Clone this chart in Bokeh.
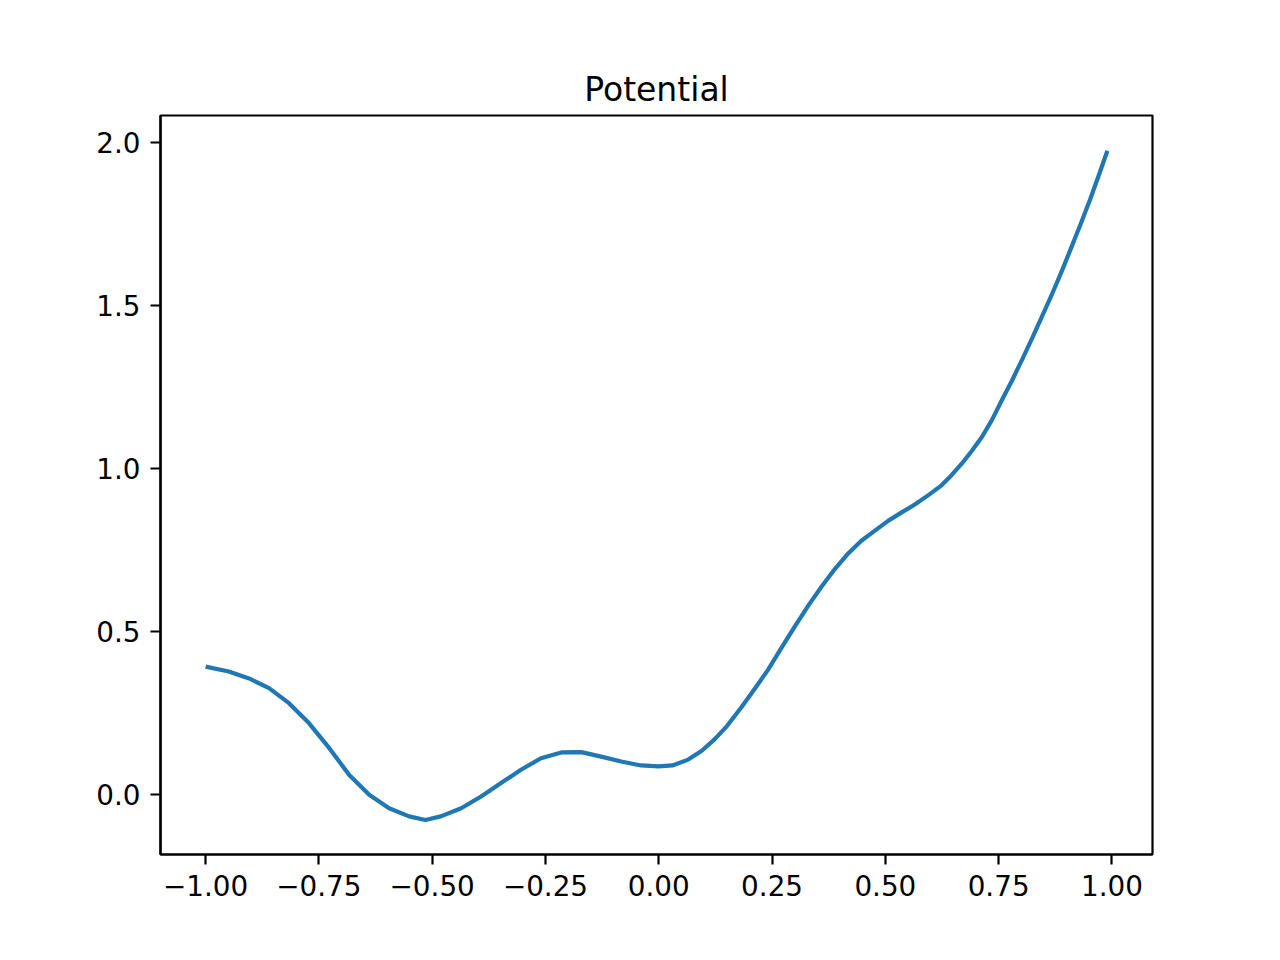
from bokeh.plotting import figure
from bokeh.models import Range1d, FixedTicker
from bokeh.embed import file_html
from bokeh.resources import INLINE

# Values
x_vals = [-1.000, -0.949, -0.904, -0.860, -0.816, -0.772, -0.727, -0.683, -0.639, -0.595,
          -0.551, -0.515, -0.481, -0.436, -0.392, -0.348, -0.304, -0.260, -0.215, -0.171,
          -0.127, -0.083, -0.039, 0.000, 0.030, 0.065, 0.095, 0.123, 0.150, 0.182, 0.211,
          0.241, 0.270, 0.300, 0.330, 0.359, 0.389, 0.418, 0.447, 0.477, 0.506, 0.536,
          0.565, 0.595, 0.624, 0.646, 0.669, 0.691, 0.713, 0.735, 0.757, 0.779, 0.801,
          0.823, 0.845, 0.868, 0.890, 0.912, 0.934, 0.952, 0.971, 0.990]
y_vals = [0.393, 0.378, 0.357, 0.327, 0.281, 0.220, 0.143, 0.061, 0.000, -0.041,
          -0.066, -0.077, -0.066, -0.041, -0.005, 0.036, 0.077, 0.112, 0.130, 0.131,
          0.117, 0.102, 0.090, 0.087, 0.090, 0.108, 0.135, 0.170, 0.210, 0.268, 0.324,
          0.383, 0.449, 0.516, 0.580, 0.638, 0.693, 0.740, 0.779, 0.810, 0.840, 0.866,
          0.890, 0.919, 0.949, 0.980, 1.016, 1.055, 1.097, 1.149, 1.210, 1.269, 1.332,
          1.397, 1.465, 1.536, 1.608, 1.684, 1.761, 1.826, 1.900, 1.975]

x_ticks = [-1.0, -0.75, -0.5, -0.25, 0.0, 0.25, 0.5, 0.75, 1.0]
x_tick_labels = ["\u22121.00", "\u22120.75", "\u22120.50", "\u22120.25", "0.00",
                 "0.25", "0.50", "0.75", "1.00"]
y_ticks = [0.0, 0.5, 1.0, 1.5, 2.0]
y_tick_labels = ["0.0", "0.5", "1.0", "1.5", "2.0"]

FONT = "DejaVu Sans"

p = figure(
    frame_width=992, frame_height=739,
    min_border_left=160, min_border_right=112,
    min_border_top=115, min_border_bottom=90,
    x_range=Range1d(-1.0995, 1.0895),
    y_range=Range1d(-0.183, 2.083),
    output_backend="svg", toolbar_location=None,
    title="Potential",
)

p.line(x_vals, y_vals, line_color="#1f77b4", line_width=4.2,
       line_join="round", line_cap="butt")

p.title.align = "center"
p.title.text_font = FONT
p.title.text_font_size = "33px"
p.title.text_font_style = "normal"
p.title.text_color = "black"
p.title.standoff = 13

p.xgrid.visible = False
p.ygrid.visible = False
p.outline_line_color = "black"
p.outline_line_width = 2.2
p.outline_line_alpha = 1.0
p.background_fill_color = "white"
p.border_fill_color = "white"

p.xaxis.ticker = FixedTicker(ticks=x_ticks)
p.yaxis.ticker = FixedTicker(ticks=y_ticks)
p.xaxis.major_label_overrides = {t: l for t, l in zip(x_ticks, x_tick_labels)}
p.yaxis.major_label_overrides = {t: l for t, l in zip(y_ticks, y_tick_labels)}

for ax in (p.xaxis, p.yaxis):
    ax.axis_line_color = "black"
    ax.axis_line_width = 2.2
    ax.major_tick_line_color = "black"
    ax.major_tick_line_width = 2.2
    ax.major_tick_out = 10
    ax.major_tick_in = 0
    ax.minor_tick_line_color = None
    ax.major_label_text_font = FONT
    ax.major_label_text_font_size = "27.8px"
    ax.major_label_text_color = "black"
    ax.major_label_standoff = 10

open("out.html", "w").write(file_html(p, INLINE))
